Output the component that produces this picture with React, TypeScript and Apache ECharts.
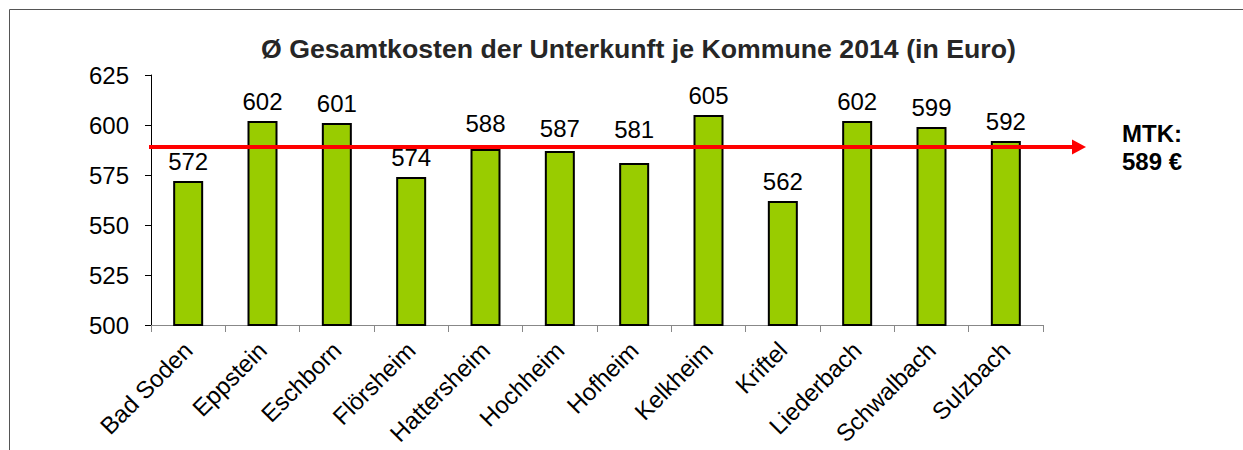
import React, { useEffect, useRef } from "react";
import * as echarts from "echarts";

const TITLE = "Ø Gesamtkosten der Unterkunft je Kommune 2014 (in Euro)";
const categories = [
  "Bad Soden",
  "Eppstein",
  "Eschborn",
  "Flörsheim",
  "Hattersheim",
  "Hochheim",
  "Hofheim",
  "Kelkheim",
  "Kriftel",
  "Liederbach",
  "Schwalbach",
  "Sulzbach",
];
const costs = [572, 602, 601, 574, 588, 587, 581, 605, 562, 602, 599, 592];
const yMin = 500;
const yMax = 625;
const yStep = 25;
const mtkAverage = 589;
const mtkLabel = "MTK:\n589 €";

const FONT = "'Liberation Sans', Arial, sans-serif";

// layout (pixels)
const GRID_LEFT = 151;
const GRID_TOP = 75;
const GRID_W = 892;
const GRID_H = 250;
const ARROW_X0 = 149; // start of red arrow line
const ARROW_X1 = 1079; // centre of arrow head
// extra label lift for labels moved clear of the red line
const labelLift: Record<string, number> = { Hattersheim: 6, Hochheim: 3, Hofheim: 14 };

export default function App() {
  const ref = useRef<HTMLDivElement>(null);
  useEffect(() => {
    const chart = echarts.init(ref.current!, null, { renderer: "svg" });
    const catW = GRID_W / categories.length;
    // overlay axis expressed in category units
    const ovMin = (ARROW_X0 - GRID_LEFT) / catW - 0.5;
    const ovMax = (ARROW_X1 - GRID_LEFT) / catW - 0.5;
    chart.setOption({
      animation: false,
      textStyle: { fontFamily: FONT },
      title: {
        text: TITLE,
        left: 256,
        top: 30,
        textStyle: { fontSize: 26.7, fontWeight: "bold", color: "#262626", fontFamily: FONT },
      },
      graphic: [
        {
          type: "rect",
          silent: true,
          z: -10,
          shape: { x: 9.5, y: 9.5, width: 1400, height: 600 },
          style: { fill: "none", stroke: "#555", lineWidth: 1 },
        },
      ],
      grid: [
        {
          left: GRID_LEFT,
          top: GRID_TOP,
          width: GRID_W,
          height: GRID_H,
          containLabel: false,
          outerBoundsMode: "none",
        },
        {
          left: ARROW_X0,
          top: GRID_TOP,
          width: ARROW_X1 - ARROW_X0,
          height: GRID_H,
          containLabel: false,
          outerBoundsMode: "none",
        },
      ],
      xAxis: [
        {
          type: "category",
          gridIndex: 0,
          data: categories,
          boundaryGap: true,
          axisLine: { onZero: false, lineStyle: { color: "#888", width: 1 } },
          axisTick: { show: true, length: 7, lineStyle: { color: "#888" }, alignWithLabel: false },
          axisLabel: {
            interval: 0,
            rotate: 45,
            fontSize: 24,
            color: "#000",
            margin: 21,
            fontFamily: FONT,
          },
        },
        {
          type: "value",
          gridIndex: 1,
          min: ovMin,
          max: ovMax,
          show: false,
        },
      ],
      yAxis: [
        {
          type: "value",
          gridIndex: 0,
          min: yMin,
          max: yMax,
          interval: yStep,
          axisLine: { show: true, onZero: false, lineStyle: { color: "#000", width: 1 } },
          axisTick: { show: true, length: 6, lineStyle: { color: "#000" } },
          splitLine: { show: false },
          axisLabel: { fontSize: 24, color: "#000", margin: 22, fontFamily: FONT },
        },
        {
          type: "value",
          gridIndex: 1,
          min: yMin,
          max: yMax,
          interval: yStep,
          show: false,
        },
      ],
      series: [
        {
          type: "bar",
          xAxisIndex: 0,
          yAxisIndex: 0,
          data: costs.map((v, i) => ({
            value: v,
            label: { distance: 8 + (labelLift[categories[i]] || 0) },
          })),
          barWidth: 30,
          itemStyle: { color: "#99CC00", borderColor: "#000", borderWidth: 2 },
          label: {
            show: true,
            position: "top",
            distance: 8,
            fontSize: 24,
            color: "#000",
            fontFamily: FONT,
          },
          z: 2,
        },
        {
          type: "line",
          xAxisIndex: 1,
          yAxisIndex: 1,
          clip: false,
          silent: true,
          z: 5,
          showSymbol: true,
          lineStyle: { color: "#FF0000", width: 4 },
          itemStyle: { color: "#FF0000" },
          data: [
            { value: [ovMin, mtkAverage], symbol: "none" },
            {
              value: [ovMax, mtkAverage],
              symbol: "triangle",
              symbolRotate: -90,
              symbolSize: [15, 14],
              label: {
                show: true,
                position: "right",
                distance: 36,
                formatter: mtkLabel,
                fontSize: 24,
                fontWeight: "bold",
                color: "#000",
                lineHeight: 28,
                align: "left",
                fontFamily: FONT,
              },
            },
          ],
        },
      ],
    });
    return () => chart.dispose();
  }, []);
  return (
    <div
      ref={ref}
      style={{ position: "absolute", left: 0, top: 0, width: 1243, height: 450, background: "#fff" }}
    />
  );
}
